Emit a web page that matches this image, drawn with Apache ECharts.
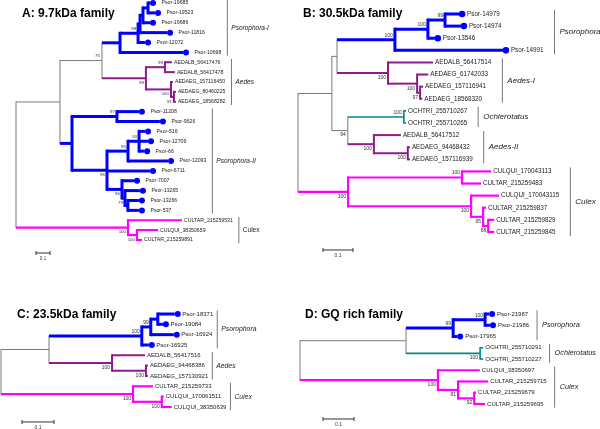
<!DOCTYPE html>
<html><head><meta charset="utf-8">
<script src="https://cdn.jsdelivr.net/npm/echarts@6/dist/echarts.min.js"></script>
<style>html,body{margin:0;padding:0;background:#fff}#c{width:600px;height:429px}</style>
</head><body><div id="c"></div>
<script>
// ================= DATA =================
const titles = ["A: 9.7kDa family", "B: 30.5kDa family", "C: 23.5kDa family", "D: GQ rich family"];

// Trees in Newick notation: leaf:branchLength, (children)bootstrap:branchLength
const treeA =
  "((((" +
  "((((Psor-19685:0.014,Psor-19523:0.05):0.036,Psor-19686:0.05):0.021,Psor-11816:0.193):0.014,Psor-12072:0.05)98:0.129,Psor-10698:0.45):0.129," +
  "((AEDALB_56417476:0.05,AEDALB_56417478:0.071)99:0.136,(AEDAEG_157116450:0.014,(AEDAEG_80460225:0.014,AEDAEG_18568282:0.014)91:0.021)100:0.179)99:0.314)75:0.3," +
  "((Psor-11208:0.157,Psor-9626:0.307)97:0.321,(((Psor-516:0.043,Psor-12709:0.064,Psor-66:0.036)53:0.079,Psor-12093:0.286)95:0.15,Psor-6711:0.307," +
  "(Psor-7007:0.086,(Psor-13265:0.107,(Psor-13266:0.079,Psor-537:0.079):0.021)79:0.021)96:0.107)96:0.25):0.086):0.314," +
  "(CULTAR_215259531:0.386,(CULQUI_38350659:0.15,CULTAR_215259891:0.036)100:0.064)100:0.8);";

const treeB =
  "(((" +
  "(((Psor-14979:0.047,Psor-14974:0.053)99:0.057,Psor-13546:0.023)100:0.11,Psor-14991:0.36)100:0.193," +
  "(AEDALB_56417514:0.15,(AEDAEG_61742033:0.037,(AEDAEG_157116941:0.01,AEDAEG_18568320:0.007)97:0.01)100:0.097)100:0.17):0.017," +
  "((OCHTRI_255710267:0.007,OCHTRI_255710265:0.007)100:0.187," +
  "(AEDALB_56417512:0.09,(AEDAEG_94468432:0.007,AEDAEG_157116939:0.007)100:0.113)100:0.087)94:0.053):0.113," +
  "((CULQUI_170043113:0.097,CULTAR_215259483:0.063)100:0.38,(CULQUI_170043115:0.093,(CULTAR_215259837:0.01," +
  "(CULTAR_215259829:0.02,CULTAR_215259845:0.02)88:0.017)95:0.04)100:0.41)100:0.167);";

const treeC =
  "((" +
  "(((Psor-18371:0.053,Psor-19084:0.016):0.022,Psor-16924:0.072)99:0.028,Psor-16925:0.022)100:0.29," +
  "(AEDALB_56417516:0.103,(AEDAEG_94468386:0.006,AEDAEG_157130921:0.006)100:0.106)100:0.197):0.15," +
  "(CULTAR_215259733:0.0625,(CULQUI_170061511:0.006,CULQUI_38350639:0.031)100:0.09)100:0.4125);";

const treeD =
  "((" +
  "((Psor-21987:0.013,Psor-21986:0.016)100:0.103,Psor-17965:0.013)99:0.152," +
  "(OCHTRI_255710291:0.01,OCHTRI_255710227:0.01)100:0.239):0.342," +
  "(CULQUI_38350697:0.135,(CULTAR_215259715:0.097,(CULTAR_215259679:0.006,CULTAR_215259695:0.035)92:0.052)81:0.065)100:0.445);";

// clade name, first leaf, last leaf
const cladesA = [["Psorophora-I", "Psor-19685", "Psor-10698"], ["Aedes", "AEDALB_56417476", "AEDAEG_18568282"],
                 ["Psorophora-II", "Psor-11208", "Psor-537"], ["Culex", "CULTAR_215259531", "CULTAR_215259891"]];
const cladesB = [["Psorophora", "Psor-14979", "Psor-14991"], ["Aedes-I", "AEDALB_56417514", "AEDAEG_18568320"],
                 ["Ochlerotatus", "OCHTRI_255710267", "OCHTRI_255710265"], ["Aedes-II", "AEDALB_56417512", "AEDAEG_157116939"],
                 ["Culex", "CULQUI_170043113", "CULTAR_215259845"]];
const cladesC = [["Psorophora", "Psor-18371", "Psor-16925"], ["Aedes", "AEDALB_56417516", "AEDAEG_157130921"],
                 ["Culex", "CULTAR_215259733", "CULQUI_38350639"]];
const cladesD = [["Psorophora", "Psor-21987", "Psor-17965"], ["Ochlerotatus", "OCHTRI_255710291", "OCHTRI_255710227"],
                 ["Culex", "CULQUI_38350697", "CULTAR_215259695"]];

const scaleBarLength = 0.1;
const scaleBarLabel = "0.1";

// ================= LAYOUT / STYLE =================
const FONT_FAMILY = "'Liberation Sans', Arial, Helvetica, sans-serif";
const COLORS = {P: '#0000FF', A: '#8E1A8E', C: '#FF00FF', O: '#008787', M: '#7A7A7A'};
const WIDTHS = {P: 3, A: 2, C: 2.2, O: 1.6, M: 1};
const TEXT = '#222';

const layout = [
  {left: 16, top: 3, spacing: 9.875, ppu: 140, width: 284, leafFont: 5.2, bootFont: 4.4, cladeFont: 6.5,
   dotOff: 3, dotR: 3, psorGap: 11.5, otherGap: 2, barGap: 6, cladeTextGap: 4, cladeStyle: ['italic', 'italic', 'italic', 'normal'],
   titleLeft: 22, titleTop: 8, scaleDx: 20, scaleDy: 13, scaleFont: 4.5},
  {left: 298, top: 14, spacing: 12.11, ppu: 300, width: 302, leafFont: 6.3, bootFont: 5, cladeFont: 8,
   dotOff: 3, dotR: 3.3, psorGap: 8, otherGap: 2, barGap: 11, cladeTextGap: 5,
   titleLeft: 303, titleTop: 8, scaleDx: 25, scaleDy: 18, scaleFont: 5},
  {left: 1, top: 314, spacing: 10.33, ppu: 320, width: 298, leafFont: 6, bootFont: 5, cladeFont: 6.8,
   dotOff: 3, dotR: 3, psorGap: 7.5, otherGap: 2, barGap: 4, cladeTextGap: 4,
   titleLeft: 17, titleTop: 309, scaleDx: 21, scaleDy: 15, scaleFont: 5},
  {left: 300, top: 314, spacing: 11.25, ppu: 310, width: 300, leafFont: 6, bootFont: 5, cladeFont: 7.3,
   dotOff: 3, dotR: 3, psorGap: 8, otherGap: 2, barGap: 8, cladeTextGap: 5,
   titleLeft: 305, titleTop: 309, scaleDx: 23, scaleDy: 15, scaleFont: 5}
];

// ================= TREE PARSING / LAYOUT =================
function parseNewick(str) {
  const s = str.replace(/\s+/g, '');
  let i = 0;
  function node() {
    const n = {children: []};
    if (s[i] === '(') {
      i++;
      do { n.children.push(node()); } while (s[i++] === ',');
    }
    let lab = '';
    while (i < s.length && ',():;'.indexOf(s[i]) < 0) lab += s[i++];
    n.label = lab;
    n.len = 0;
    if (s[i] === ':') {
      i++;
      let num = '';
      while (i < s.length && ',();'.indexOf(s[i]) < 0) num += s[i++];
      n.len = parseFloat(num);
    }
    return n;
  }
  return node();
}
function groupOf(name) {
  if (name.startsWith('Psor')) return 'P';
  if (name.startsWith('AED')) return 'A';
  if (name.startsWith('CUL')) return 'C';
  if (name.startsWith('OCH')) return 'O';
  return 'M';
}
function layoutTree(root) {
  const leaves = [], nodes = [];
  (function walk(n, depth, parent) {
    n.depth = depth + n.len;
    n.parent = parent;
    nodes.push(n);
    if (!n.children.length) {
      n.y = leaves.length; leaves.push(n); n.group = groupOf(n.label);
    } else {
      n.children.forEach(c => walk(c, n.depth, n));
      n.y = (n.children[0].y + n.children[n.children.length - 1].y) / 2;
      const g = n.children[0].group;
      n.group = n.children.every(c => c.group === g) ? g : 'M';
    }
  })(root, 0, null);
  return {leaves, nodes};
}

const measureCtx = document.createElement('canvas').getContext('2d');
function textWidth(t, font) { measureCtx.font = font; return measureCtx.measureText(t).width; }

function mk(pi, items, getXY, draw) {
  return {
    type: 'custom', coordinateSystem: 'cartesian2d', xAxisIndex: pi, yAxisIndex: pi,
    silent: true, clip: false, animation: false,
    data: items.map(getXY),
    renderItem: (params, api) => draw(items[params.dataIndex], api)
  };
}

// ================= BUILD OPTION =================
const trees = [treeA, treeB, treeC, treeD];
const cladeSets = [cladesA, cladesB, cladesC, cladesD];
const grids = [], xAxes = [], yAxes = [], series = [], titleOpts = [];

trees.forEach((tstr, pi) => {
  const L = layout[pi];
  const {leaves, nodes} = layoutTree(parseNewick(tstr));
  const n = leaves.length;
  grids.push({left: L.left, top: L.top, width: L.width, height: (n - 1) * L.spacing, containLabel: false});
  xAxes.push({type: 'value', gridIndex: pi, min: 0, max: L.width / L.ppu, show: false});
  yAxes.push({type: 'value', gridIndex: pi, min: 0, max: n - 1, inverse: true, show: false});
  titleOpts.push({text: titles[pi], left: L.titleLeft, top: L.titleTop, padding: 0,
    textStyle: {fontSize: 12, fontWeight: 'bold', fontFamily: FONT_FAMILY, color: '#000'}});

  const leafFont = `${L.leafFont}px ${FONT_FAMILY}`;
  const bootFont = `${L.bootFont}px ${FONT_FAMILY}`;

  // branches
  const segs = [];
  nodes.forEach(nd => {
    if (nd.parent) segs.push({x: nd.parent.depth, y: nd.y, x2: nd.depth, y2: nd.y, g: nd.group, v: false});
    if (nd.children.length) segs.push({x: nd.depth, y: nd.children[0].y, x2: nd.depth,
      y2: nd.children[nd.children.length - 1].y, g: nd.group, v: true});
  });
  segs.sort((a, b) => WIDTHS[a.g] - WIDTHS[b.g]);
  series.push(mk(pi, segs, s => [s.x, s.y], (s, api) => {
    const p1 = api.coord([s.x, s.y]), p2 = api.coord([s.x2, s.y2]);
    return {type: 'line', shape: {x1: p1[0], y1: p1[1], x2: p2[0], y2: p2[1]},
      style: {stroke: COLORS[s.g], lineWidth: WIDTHS[s.g], lineCap: s.v ? 'square' : 'butt'}};
  }));

  // leaves: dots + labels
  series.push(mk(pi, leaves, lf => [lf.depth, lf.y], (lf, api) => {
    const p = api.coord([lf.depth, lf.y]);
    const isP = lf.group === 'P';
    const ch = [];
    if (isP) ch.push({type: 'circle', shape: {cx: p[0] + L.dotOff, cy: p[1], r: L.dotR}, style: {fill: COLORS.P}});
    ch.push({type: 'text', x: p[0] + (isP ? L.psorGap : L.otherGap), y: p[1],
      style: {text: lf.label, font: leafFont, fill: TEXT, align: 'left', verticalAlign: 'middle'}});
    return {type: 'group', children: ch};
  }));

  // bootstrap values
  const boots = nodes.filter(nd => nd.children.length && nd.label !== '');
  series.push(mk(pi, boots, nd => [nd.depth, nd.y], (nd, api) => {
    const p = api.coord([nd.depth, nd.y]);
    const above = !nd.parent || nd.parent.children[0] === nd;
    return {type: 'text', x: p[0] - 2, y: p[1] + (above ? -4.5 : 4.5),
      style: {text: nd.label, font: bootFont, fill: '#333', align: 'right', verticalAlign: 'middle'}};
  }));

  // clade bars
  const byName = {};
  leaves.forEach(l => { byName[l.label] = l; });
  const cladeItems = cladeSets[pi].map(([name, first, last], ci) => {
    const a = byName[first].y, b = byName[last].y;
    let right = 0;
    for (let k = a; k <= b; k++) {
      const lf = leaves[k];
      const off = lf.group === 'P' ? L.psorGap : L.otherGap;
      right = Math.max(right, lf.depth * L.ppu + off + textWidth(lf.label, leafFont));
    }
    const fs = (L.cladeStyle && L.cladeStyle[ci]) || 'italic';
    return {x: (right + L.barGap) / L.ppu, y: a - 0.33, y2: b + 0.33, name,
            font: `${fs} ${L.cladeFont}px ${FONT_FAMILY}`};
  });
  series.push(mk(pi, cladeItems, c => [c.x, c.y], (c, api) => {
    const p1 = api.coord([c.x, c.y]), p2 = api.coord([c.x, c.y2]);
    return {type: 'group', children: [
      {type: 'line', shape: {x1: p1[0], y1: p1[1], x2: p2[0], y2: p2[1]}, style: {stroke: '#777', lineWidth: 1}},
      {type: 'text', x: p1[0] + L.cladeTextGap, y: (p1[1] + p2[1]) / 2,
        style: {text: c.name, font: c.font, fill: TEXT, align: 'left', verticalAlign: 'middle'}}
    ]};
  }));

  // scale bar
  const sb = [{x: L.scaleDx / L.ppu, y: (n - 1) + L.scaleDy / L.spacing, len: scaleBarLength}];
  series.push(mk(pi, sb, s => [s.x, s.y], (s, api) => {
    const p1 = api.coord([s.x, s.y]), p2 = api.coord([s.x + s.len, s.y]);
    const st = {stroke: '#333', lineWidth: 1};
    return {type: 'group', children: [
      {type: 'line', shape: {x1: p1[0], y1: p1[1], x2: p2[0], y2: p2[1]}, style: st},
      {type: 'line', shape: {x1: p1[0], y1: p1[1] - 2, x2: p1[0], y2: p1[1] + 2}, style: st},
      {type: 'line', shape: {x1: p2[0], y1: p2[1] - 2, x2: p2[0], y2: p2[1] + 2}, style: st},
      {type: 'text', x: (p1[0] + p2[0]) / 2, y: p1[1] + 6,
        style: {text: scaleBarLabel, font: `${L.scaleFont}px ${FONT_FAMILY}`, fill: '#333', align: 'center', verticalAlign: 'middle'}}
    ]};
  }));
});

const chart = echarts.init(document.getElementById('c'), null, {renderer: 'canvas', width: 600, height: 429});
chart.setOption({
  backgroundColor: '#ffffff',
  animation: false,
  title: titleOpts,
  grid: grids,
  xAxis: xAxes,
  yAxis: yAxes,
  series: series
});
</script>
</body></html>
